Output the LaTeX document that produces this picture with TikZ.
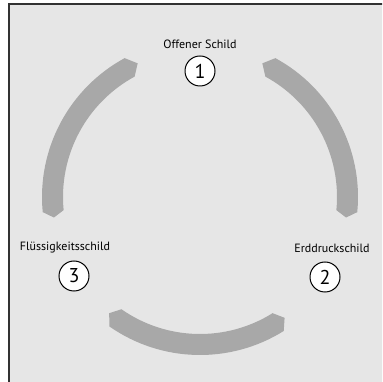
\documentclass[tikz,border=0pt]{standalone}
\usepackage{fontspec}
\setmainfont{PT Sans}
\definecolor{bgcol}{RGB}{230,230,230}
\definecolor{arccol}{RGB}{168,168,168}
\definecolor{framecol}{RGB}{50,50,50}
\tikzset{
  arcband/.style={fill=arccol},
  numcircle/.style={circle, draw=black, line width=1pt, fill=white, minimum size=30pt, inner sep=0pt, font=\fontsize{20}{20}\selectfont},
  caption/.style={font=\fontsize{12}{12}\selectfont, inner sep=0pt}
}
\begin{document}
\begin{tikzpicture}[x=1pt,y=1pt]
\clip (0,0) rectangle (382,382);
\fill[white] (0,0) rectangle (382,382);
\draw[framecol, line width=2pt, fill=bgcol] (9,378) rectangle (400,-20);
% arcs, centre (200,185)
\begin{scope}[shift={(200,185)}]
\fill[arcband] (118.5:158) arc[start angle=118.5, end angle=185.5, radius=158] -- (188:147.5) -- (185.5:137) arc[start angle=185.5, end angle=118.5, radius=137] -- (115:147.5) -- cycle;
\fill[arcband] (-5.5:158) arc[start angle=-5.5, end angle=61.5, radius=158] -- (65:147.5) -- (61.5:137) arc[start angle=61.5, end angle=-5.5, radius=137] -- (-8:147.5) -- cycle;
\fill[arcband] (235:158) arc[start angle=235, end angle=302, radius=158] -- (305:147.5) -- (302:137) arc[start angle=302, end angle=235, radius=137] -- (232:147.5) -- cycle;
\end{scope}
\node[caption] (t1) at (200,338) {Offener Schild};
\node[caption] (t3) at (65,134) {Flüssigkeitsschild};
\node[caption] (t2) at (332,134) {Erddruckschild};
\node[numcircle] (c1) at (200,311) {1};
\node[numcircle] (c3) at (74,106) {3};
\node[numcircle] (c2) at (325,105) {2};
\end{tikzpicture}
\end{document}
